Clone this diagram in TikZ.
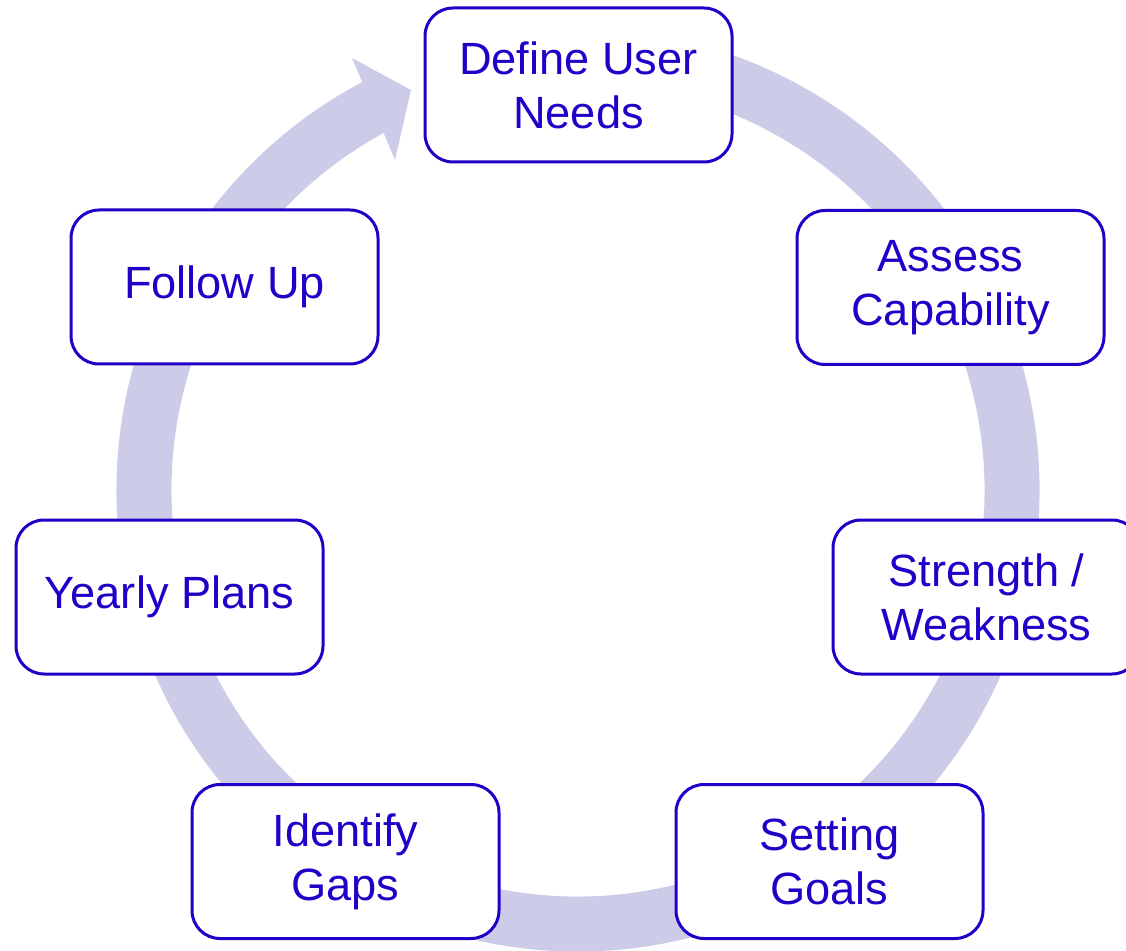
\documentclass[tikz,border=0pt]{standalone}
\usepackage{fontspec}
\setmainfont{Liberation Sans}
\usepackage{xcolor}
\usetikzlibrary{positioning,calc}
\definecolor{ringcol}{RGB}{204,204,232}
\definecolor{boxcol}{RGB}{34,0,200}

\begin{document}
\begin{tikzpicture}[x=0.5pt,y=0.5pt,
	stage/.style={draw=boxcol,line width=1.5pt,fill=white,rounded corners=14pt,minimum width=153.5pt,minimum height=77pt,align=center,text=boxcol,inner sep=0pt,font=\fontsize{22.6}{27}\selectfont},
	ring/.style={draw=ringcol,line width=27.5pt}]
			\useasboundingbox (0,0) rectangle (1126,950);
			\clip (0,0) rectangle (1126,950);
			\coordinate (c) at (578,460);
			\draw [ring] ($(c)+(100:217pt)$) arc[start angle=100,end angle=-243,radius=217pt];
			\fill [ringcol] (352,892) -- (411,860) -- (395,790) -- cycle;
			\node[stage] (need) at (578.5,865) {Define User\\Needs};
			\node[stage] (assess) at (950.5,662.5) {Assess\\Capability};
			\node[stage] (strength) at (986.5,353) {Strength /\\Weakness};
			\node[stage] (goals) at (829.5,88.5) {Setting\\Goals};
			\node[stage] (gaps) at (345.5,88.5) {Identify\\Gaps};
			\node[stage] (plans) at (169.5,353) {Yearly Plans};
			\node[stage] (follow) at (224.5,663) {Follow Up};
\end{tikzpicture}
\end{document}
